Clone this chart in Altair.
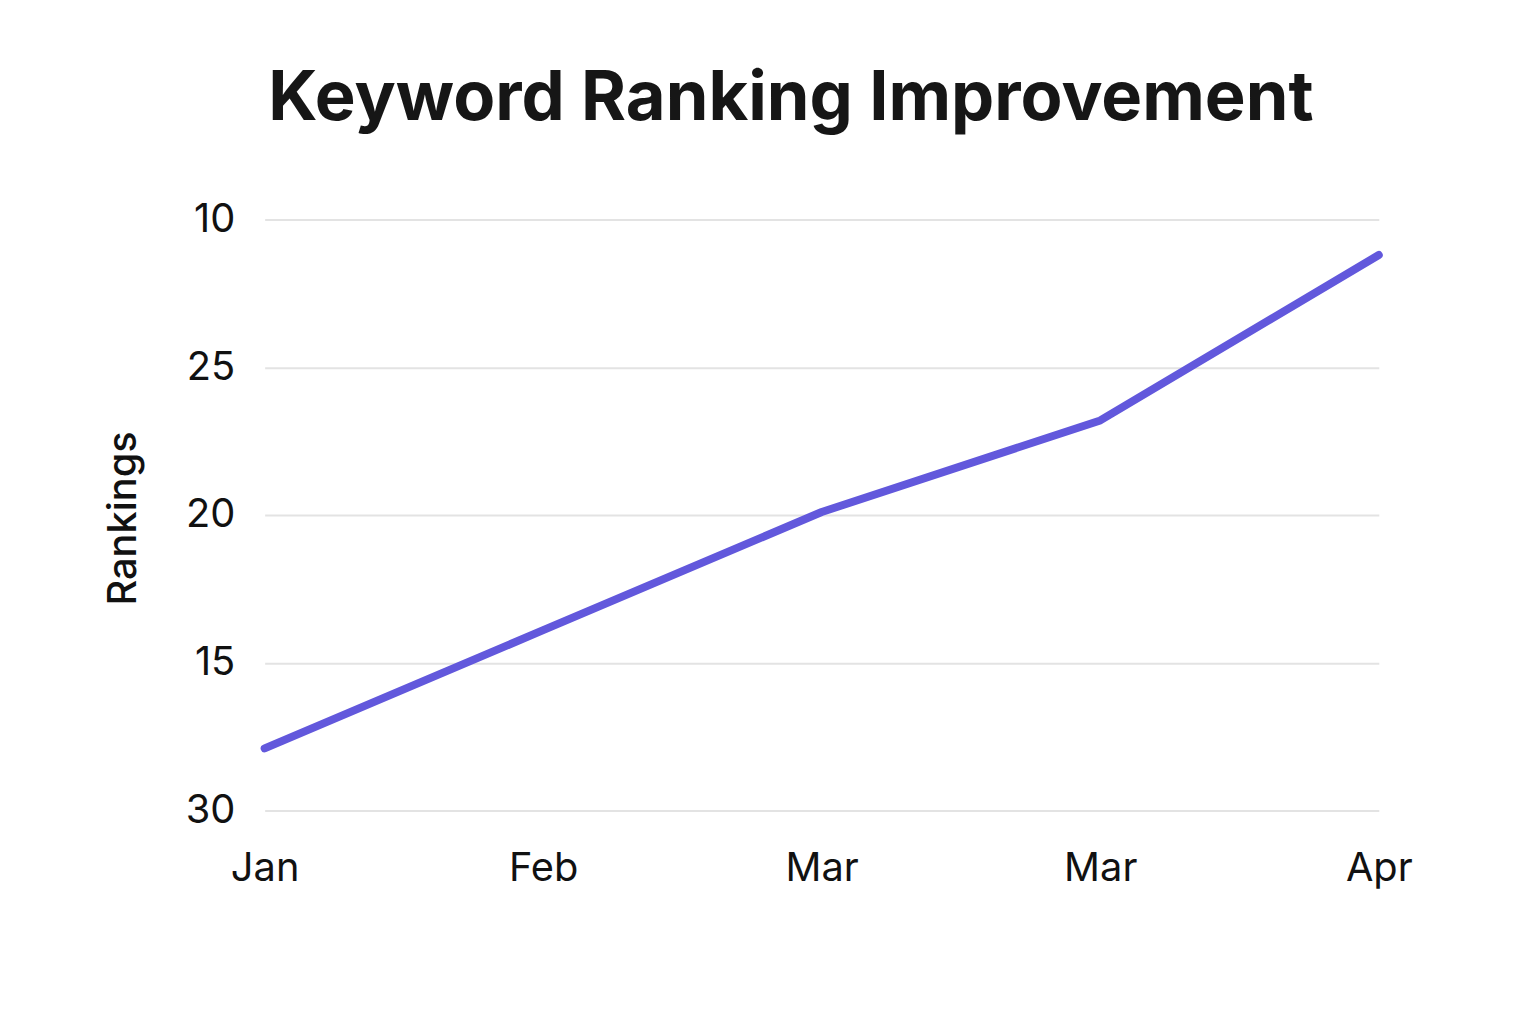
import altair as alt
import pandas as pd
import json

months = ["Jan", "Feb", "Mar", "Mar", "Apr"]
rankings = [27.9, 23.9, 19.9, 16.8, 11.2]
y_ticks = [10, 15, 20, 25, 30]
y_tick_labels = ["10", "25", "20", "15", "30"]

df = pd.DataFrame({"idx": list(range(len(months))), "month": months, "rank": rankings})

x_expr = json.dumps(months) + "[datum.value]"
y_expr = json.dumps(y_tick_labels) + "[(datum.value - 10) / 5]"

chart = alt.Chart(df).mark_line(
    color="#6258DC", strokeWidth=8, strokeCap="round", strokeJoin="round"
).encode(
    x=alt.X("idx:Q",
            scale=alt.Scale(domain=[0, len(months) - 1], nice=False, zero=False),
            axis=alt.Axis(values=list(range(len(months))), labelExpr=x_expr, title=None,
                          grid=False, domain=False, ticks=False, labelPadding=38,
                          labelFontSize=40, labelFont="Inter", labelColor="#111111",
                          labelFlush=False)),
    y=alt.Y("rank:Q",
            scale=alt.Scale(domain=[10, 30], reverse=True, nice=False, zero=False),
            axis=alt.Axis(values=y_ticks, labelExpr=y_expr, title="Rankings",
                          grid=True, gridColor="#e3e3e3", gridWidth=2,
                          domain=False, ticks=False, labelPadding=30,
                          labelFontSize=40, labelFont="Inter", labelColor="#111111",
                          titleFontSize=40, titleFont="Inter", titleFontWeight=500,
                          titleColor="#111111", titlePadding=42, titleY=300)),
).properties(
    width=1120,
    height=594,
    title=alt.TitleParams("Keyword Ranking Improvement", fontSize=69, font="Inter",
                          fontWeight="bold", color="#161616", offset=66, dx=-31),
    autosize=alt.AutoSizeParams(type="none"),
    padding={"left": 258, "top": 210, "right": 150, "bottom": 190},
).configure_view(stroke=None)

chart.save("out.html", embed_options={"renderer": "svg", "actions": False})
